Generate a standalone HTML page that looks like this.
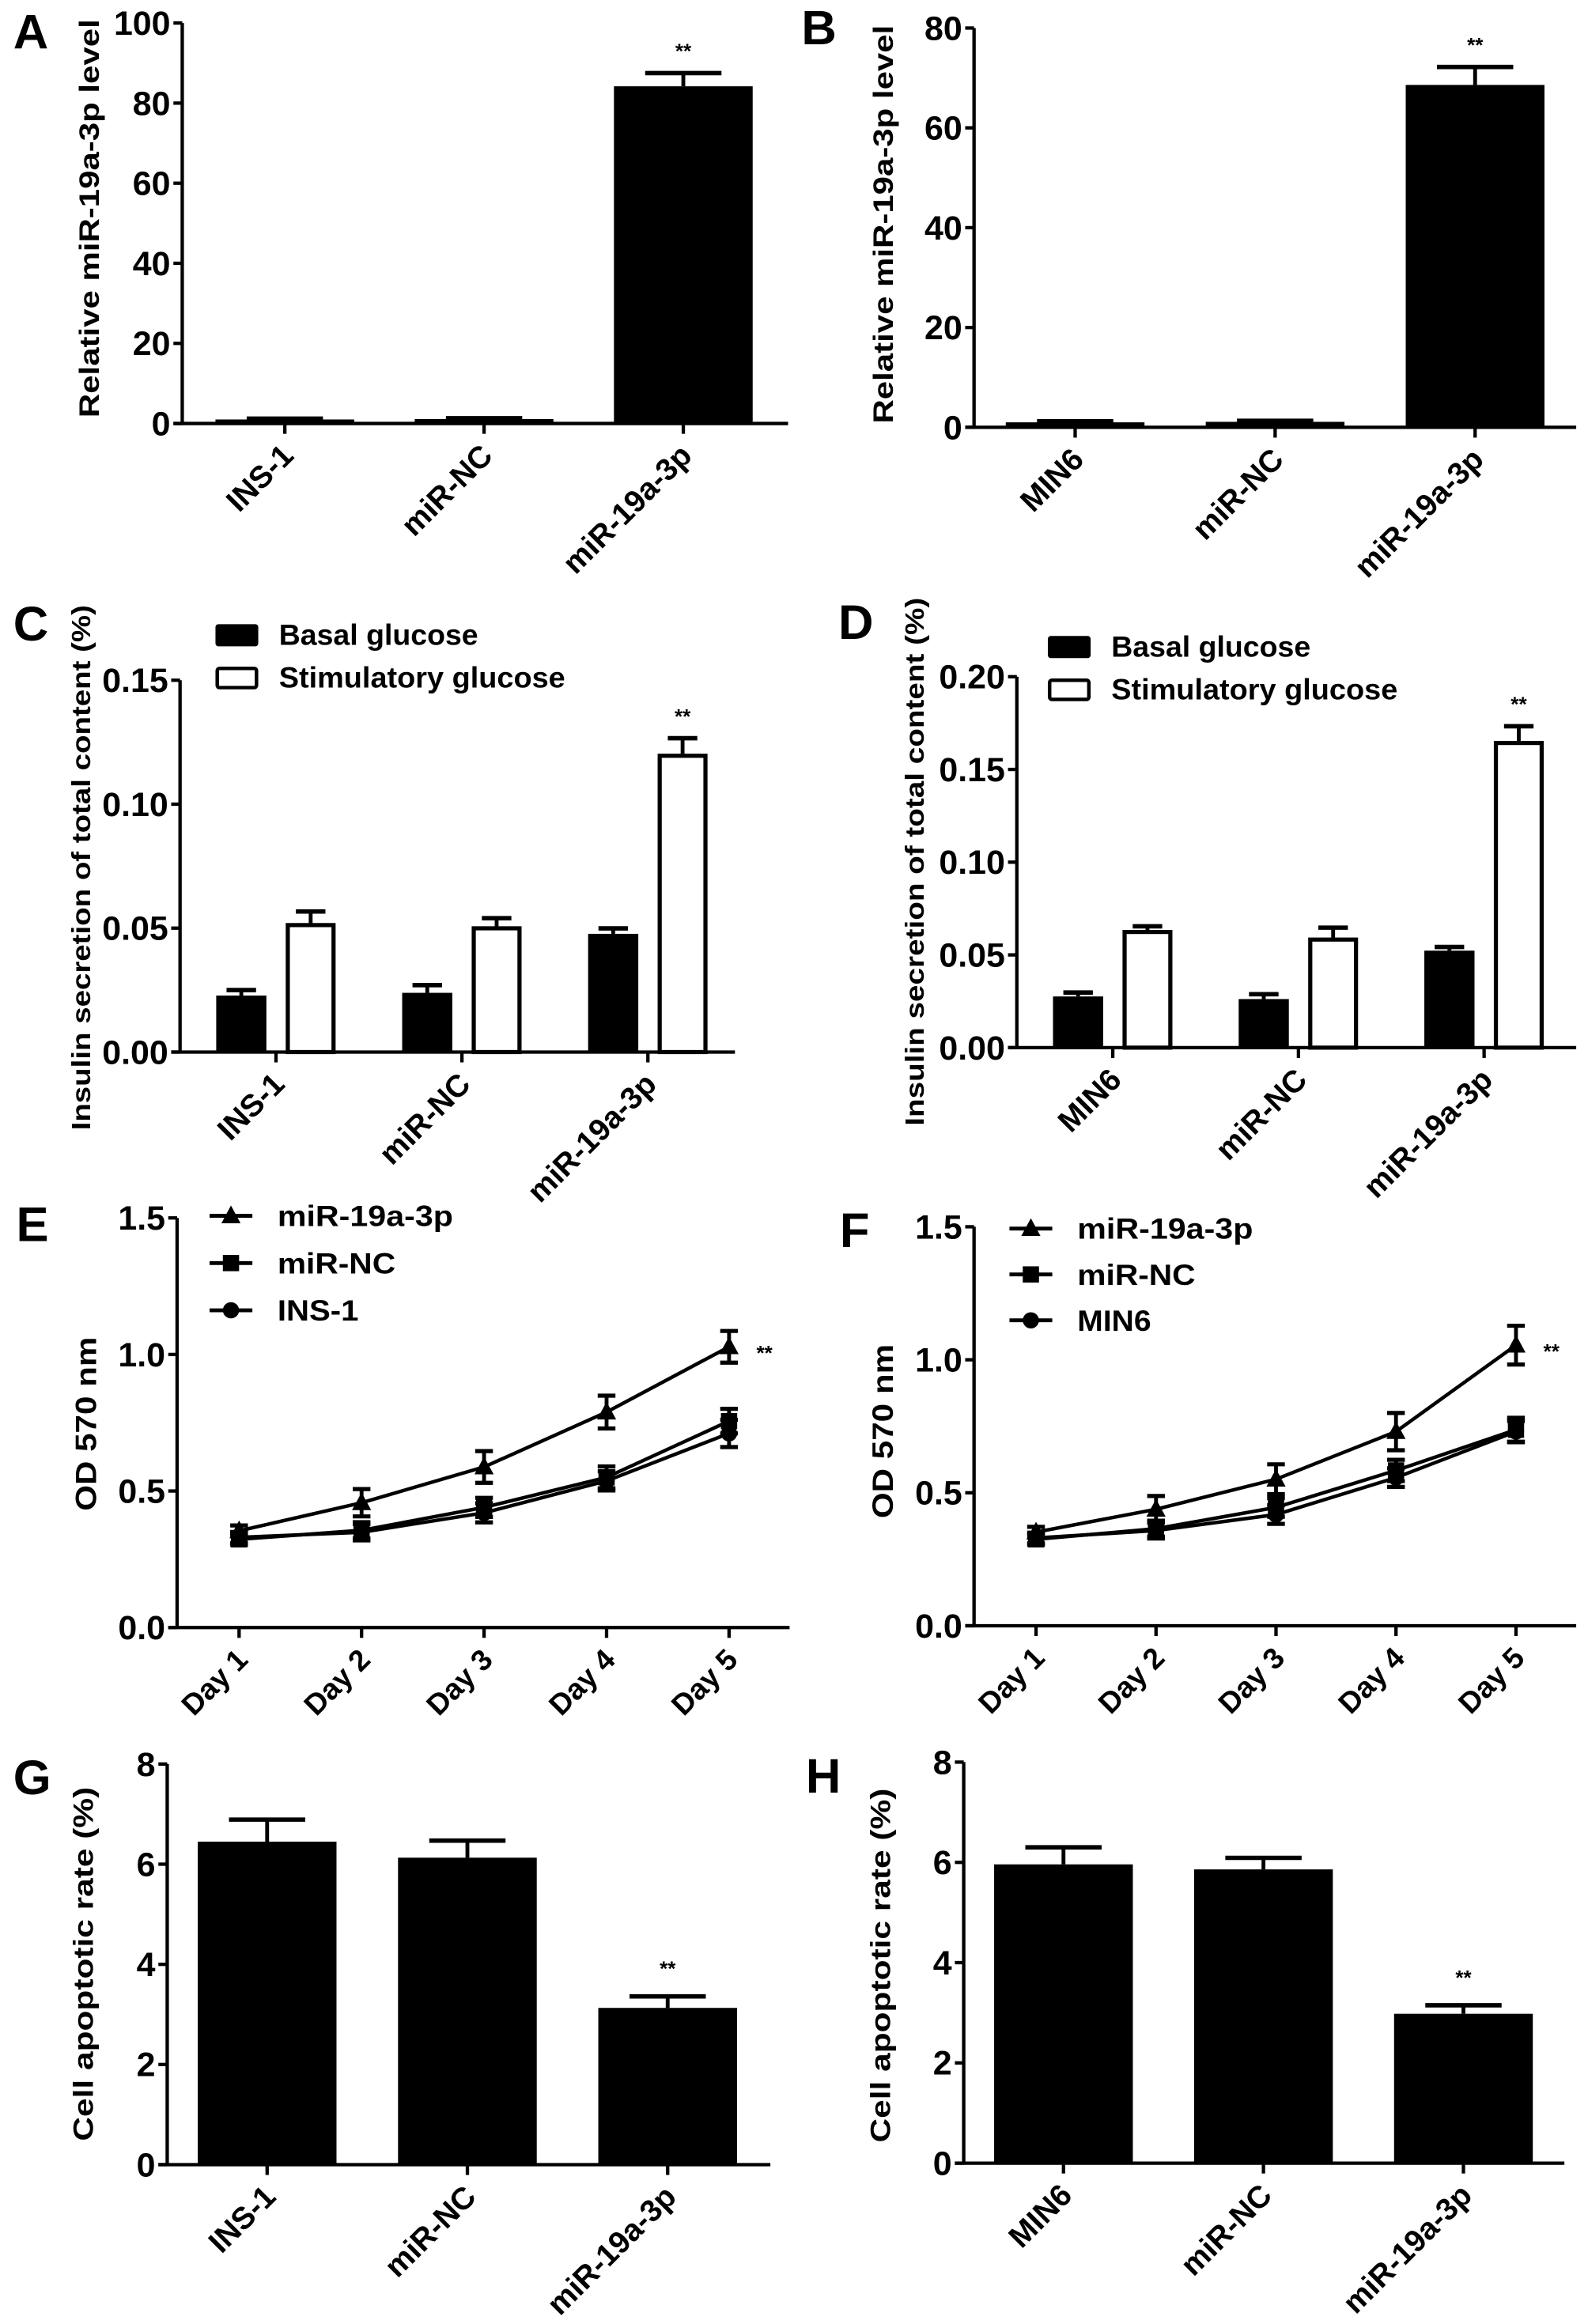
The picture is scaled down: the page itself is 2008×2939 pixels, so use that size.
<!DOCTYPE html>
<html><head><meta charset="utf-8"><style>
html,body{margin:0;padding:0;background:#fff;}
svg{display:block;}
text{font-family:"Liberation Sans",Arial,sans-serif;font-weight:bold;fill:#000;}
.narrow{font-family:"Liberation Sans Narrow","Liberation Sans",Arial,sans-serif;}
</style></head><body>
<svg id="fig" xmlns="http://www.w3.org/2000/svg" width="2008" height="2939" viewBox="0 0 1076 1575" preserveAspectRatio="none"></svg>
<script>
// ---------- DATA ----------
const catsINS = ["INS-1","miR-NC","miR-19a-3p"];
const catsMIN = ["MIN6","miR-NC","miR-19a-3p"];
const aValues = [1.0, 1.1, 84.2];
const aErrors = [0.2, 0.2, 3.3];
const aTicks = [0,20,40,60,80,100];
const bValues = [1.0, 1.1, 68.6];
const bErrors = [0.2, 0.2, 3.6];
const bTicks = [0,20,40,60,80];
const cBasal = [0.0228, 0.0239, 0.0477];
const cBasalErr = [0.0022, 0.0031, 0.0022];
const cStim = [0.0520, 0.0507, 0.1203];
const cStimErr = [0.0047, 0.0033, 0.0063];
const cTicks = [0,0.05,0.10,0.15];
const cTickLabels = ["0.00","0.05","0.10","0.15"];
const dBasal = [0.0276, 0.0262, 0.0523];
const dBasalErr = [0.0021, 0.0026, 0.0020];
const dStim = [0.0634, 0.0593, 0.1653];
const dStimErr = [0.0020, 0.0054, 0.0080];
const dTicks = [0,0.05,0.10,0.15,0.20];
const dTickLabels = ["0.00","0.05","0.10","0.15","0.20"];
const days = ["Day 1","Day 2","Day 3","Day 4","Day 5"];
const odTicks = [0,0.5,1.0,1.5];
const odTickLabels = ["0.0","0.5","1.0","1.5"];
const eMir = [0.354, 0.457, 0.588, 0.789, 1.028];
const eMirErr = [0.02, 0.05, 0.058, 0.06, 0.058];
const eNC = [0.323, 0.356, 0.440, 0.550, 0.756];
const eNCErr = [0.02, 0.03, 0.035, 0.04, 0.045];
const eCtl = [0.330, 0.349, 0.420, 0.537, 0.711];
const eCtlErr = [0.02, 0.03, 0.035, 0.035, 0.05];
const fMir = [0.352, 0.438, 0.551, 0.730, 1.055];
const fMirErr = [0.02, 0.05, 0.056, 0.07, 0.073];
const fNC = [0.325, 0.365, 0.445, 0.584, 0.737];
const fNCErr = [0.02, 0.03, 0.035, 0.04, 0.045];
const fCtl = [0.330, 0.358, 0.418, 0.557, 0.730];
const fCtlErr = [0.02, 0.03, 0.035, 0.035, 0.04];
const gValues = [6.45, 6.13, 3.13];
const gErrors = [0.44, 0.34, 0.23];
const gTicks = [0,2,4,6,8];
const hValues = [5.96, 5.86, 2.98];
const hErrors = [0.34, 0.23, 0.17];
const hTicks = [0,2,4,6,8];

// ---------- HELPERS ----------
const NS = "http://www.w3.org/2000/svg";
const svg = document.getElementById('fig');
function el(tag, attrs, parent){
  const e = document.createElementNS(NS, tag);
  for (const k in attrs) e.setAttribute(k, attrs[k]);
  (parent||svg).appendChild(e);
  return e;
}
function txt(s, attrs, parent){ const t = el('text', attrs, parent); t.textContent = s; return t; }

function axes(g, P, ticks, tickLabels){
  const ys = v => P.zeroY - v/P.max*(P.zeroY-P.topY);
  const ya = el('line',{x1:P.axisX,y1:P.topY,x2:P.axisX,y2:P.zeroY,stroke:'#000','stroke-width':2.3},g);
  
  
  const xa = el('line',{x1:P.axisX-6,y1:P.zeroY,x2:P.endX,y2:P.zeroY,stroke:'#000','stroke-width':2.3},g);
  
  
  ticks.forEach((v,i)=>{
    const y = ys(v);
    const tk = el('line',{x1:P.axisX-6,y1:y,x2:P.axisX,y2:y,stroke:'#000','stroke-width':2.3},g);
    
    
    const t = txt(tickLabels?tickLabels[i]:String(v),{x:P.axisX-8,y:y+8,'text-anchor':'end','font-size':23,class:'narrow'},g);
    
    
  });
  const yl = txt(P.ylabel,{x:0,y:0,'text-anchor':'middle','font-size':P.ylSize||19,transform:`translate(${P.ylX},${P.ylY}) rotate(-90)`,textLength:P.ylLen,lengthAdjust:'spacingAndGlyphs'},g);
  
  
  const lt = txt(P.letter,{x:P.lx,y:P.ly,'font-size':33},g);
  
  
  return ys;
}
function catLabels(g, P, cats, fs){
  cats.forEach((c,i)=>{
    const x = P.firstX + i*P.step;
    const tk = el('line',{x1:x,y1:P.zeroY,x2:x,y2:P.zeroY+7,stroke:'#000','stroke-width':2.3},g);
    
    
    const t = txt(c,{x:0,y:0,'text-anchor':'end','font-size':fs||21,transform:`translate(${x+7},${P.zeroY+23}) rotate(-45)`},g);
    
    
  });
}
function errBar(g, x, yTop, yErr, capW){
  const l = el('line',{x1:x,y1:yTop,x2:x,y2:yErr,stroke:'#000','stroke-width':2.6},g);
  
  
  const c = el('line',{x1:x-capW/2,y1:yErr,x2:x+capW/2,y2:yErr,stroke:'#000','stroke-width':3},g);
  
  
}
function star(g,x,y){
  const s = txt('**',{x:x,y:y,'text-anchor':'middle','font-size':14},g);
  
  
}

function simpleBar(P, cats, vals, errs, ticks, starIdx){
  const g = el('g',{});
  
  
  const ys = axes(g,P,ticks);
  vals.forEach((v,i)=>{
    const x = P.firstX + i*P.step;
    const yT = ys(v);
    errBar(g,x,yT,ys(v+errs[i]),P.bw*0.55);
    const r = el('rect',{x:x-P.bw/2,y:yT,width:P.bw,height:Math.max(P.zeroY-yT,2),fill:'#000'},g);
    
    
  });
  catLabels(g,P,cats);
  const i = starIdx;
  star(g, P.firstX+i*P.step, ys(vals[i]+errs[i])-P.starGap);
}

function groupBar(P, cats, basal, basalErr, stim, stimErr, ticks, tickLabels){
  const g = el('g',{});
  
  
  const ys = axes(g,P,ticks,tickLabels);
  cats.forEach((c,i)=>{
    const x = P.firstX + i*P.step;
    const xb = x - 23.5, xs = x + 23.5;
    let yT = ys(basal[i]);
    errBar(g,xb,yT,ys(basal[i]+basalErr[i]),20);
    const r1 = el('rect',{x:xb-17,y:yT,width:34,height:P.zeroY-yT,fill:'#000'},g);
    
    
    yT = ys(stim[i]);
    errBar(g,xs,yT,ys(stim[i]+stimErr[i]),20);
    const r2 = el('rect',{x:xs-15.5,y:yT+1.3,width:31,height:P.zeroY-yT-1.3,fill:'#fff',stroke:'#000','stroke-width':2.8},g);
    
    
  });
  catLabels(g,P,cats);
  star(g, P.firstX+2*P.step+23.5, ys(stim[2]+stimErr[2])-P.starGap);
  // legend
  const lg = el('g',{},g);
  
  
  const b1 = el('rect',{x:P.legX,y:P.legY1-7,width:29,height:15,rx:2,fill:'#000'},lg);
  
  
  const t1 = txt('Basal glucose',{x:P.legTX,y:P.legY1+7,'font-size':20,textLength:135,lengthAdjust:'spacingAndGlyphs'},lg);
  
  
  const b2 = el('rect',{x:P.legX+1.2,y:P.legY2-6,width:26.6,height:13,rx:1.5,fill:'#fff',stroke:'#000','stroke-width':2.4},lg);
  
  
  const t2 = txt('Stimulatory glucose',{x:P.legTX,y:P.legY2+7,'font-size':20,textLength:194,lengthAdjust:'spacingAndGlyphs'},lg);
  
  
}

function marker(g, type, x, y, name){
  let m;
  if (type==='tri') m = el('polygon',{points:`${x},${y-7} ${x-6.5},${y+5} ${x+6.5},${y+5}`,fill:'#000'},g);
  else if (type==='sq') m = el('rect',{x:x-5.5,y:y-5.5,width:11,height:11,fill:'#000'},g);
  else m = el('circle',{cx:x,cy:y,r:5.5,fill:'#000'},g);
  
  
}

function linePanel(P, series, ctlName){
  const g = el('g',{});
  
  
  const ys = axes(g,P,odTicks,odTickLabels);
  const xs = i => P.firstX + i*P.step;
  series.forEach(s=>{
    const pts = s.vals.map((v,i)=>`${xs(i)},${ys(v)}`).join(' ');
    const pl = el('polyline',{points:pts,fill:'none',stroke:'#000','stroke-width':2.4},g);
    
    
    s.vals.forEach((v,i)=>{
      const x = xs(i);
      const l = el('line',{x1:x,y1:ys(v-s.err[i]),x2:x,y2:ys(v+s.err[i]),stroke:'#000','stroke-width':2.6},g);
      
      
      [v-s.err[i], v+s.err[i]].forEach(e=>{
        const c = el('line',{x1:x-6,y1:ys(e),x2:x+6,y2:ys(e),stroke:'#000','stroke-width':2.8},g);
        
        
      });
      marker(g,s.mk,x,ys(v),'point-'+s.name);
    });
  });
  catLabels(g,P,days,20);
  star(g, xs(4)+24, ys(series[0].vals[4])+9);
  const lg = el('g',{},g);
  
  
  const labels = ['miR-19a-3p','miR-NC',ctlName];
  const widths = [119, 80, ctlName==='MIN6'?50:55];
  series.forEach((s,i)=>{
    const y = P.legY + i*P.legStep;
    const ln = el('line',{x1:P.legX,y1:y,x2:P.legX+29,y2:y,stroke:'#000','stroke-width':2.6},lg);
    
    
    marker(lg,s.mk,P.legX+14.5,y,'legend-marker');
    const t = txt(labels[i],{x:P.legTX,y:y+7,'font-size':20,textLength:widths[i],lengthAdjust:'spacingAndGlyphs'},lg);
    
    
  });
}

// ---------- PANELS ----------
simpleBar({letter:'A',lx:9,ly:33,axisX:123.5,zeroY:287,topY:15.6,max:100,endX:534,firstX:193,step:135,bw:94,
  ylabel:'Relative miR-19a-3p level',ylX:67,ylY:148,ylLen:270,starGap:10}, catsINS, aValues, aErrors, aTicks, 2);
simpleBar({letter:'B',lx:543,ly:30,axisX:660,zeroY:289.6,topY:19,max:80,endX:1068,firstX:728.5,step:135.5,bw:94,
  ylabel:'Relative miR-19a-3p level',ylX:605,ylY:152,ylLen:270,starGap:10}, catsMIN, bValues, bErrors, bTicks, 2);
groupBar({letter:'C',lx:9,ly:434,axisX:122,zeroY:713,topY:461,max:0.15,endX:498,firstX:187,step:126,
  ylabel:'Insulin secretion of total content (%)',ylX:61,ylY:588,ylLen:356,ylSize:18,starGap:10,
  legX:146,legTX:189,legY1:430,legY2:459}, catsINS, cBasal, cBasalErr, cStim, cStimErr, cTicks, cTickLabels);
groupBar({letter:'D',lx:568,ly:433,axisX:689,zeroY:710,topY:458.6,max:0.20,endX:1068,firstX:754,step:125.8,
  ylabel:'Insulin secretion of total content (%)',ylX:626,ylY:584,ylLen:358,ylSize:18,starGap:10,
  legX:710,legTX:753,legY1:438,legY2:467}, catsMIN, dBasal, dBasalErr, dStim, dStimErr, dTicks, dTickLabels);
linePanel({letter:'E',lx:11,ly:841,axisX:120,zeroY:1103,topY:825.4,max:1.5,endX:535,firstX:162,step:83,
  ylabel:'OD 570 nm',ylX:65,ylY:965,ylLen:118,ylSize:20,legX:142,legTX:188,legY:824,legStep:32},
  [{name:'mir-19a-3p',vals:eMir,err:eMirErr,mk:'tri'},{name:'mir-nc',vals:eNC,err:eNCErr,mk:'sq'},{name:'ins-1',vals:eCtl,err:eCtlErr,mk:'circ'}],'INS-1');
linePanel({letter:'F',lx:569,ly:845,axisX:660,zeroY:1101.8,topY:831.4,max:1.5,endX:1068,firstX:702,step:81.3,
  ylabel:'OD 570 nm',ylX:605,ylY:970,ylLen:118,ylSize:20,legX:684,legTX:730,legY:832.6,legStep:31.1},
  [{name:'mir-19a-3p',vals:fMir,err:fMirErr,mk:'tri'},{name:'mir-nc',vals:fNC,err:fNCErr,mk:'sq'},{name:'min6',vals:fCtl,err:fCtlErr,mk:'circ'}],'MIN6');
simpleBar({letter:'G',lx:9,ly:1216,axisX:113.3,zeroY:1467,topY:1195.5,max:8,endX:522,firstX:181,step:135.7,bw:94,
  ylabel:'Cell apoptotic rate (%)',ylX:63,ylY:1331,ylLen:240,starGap:14}, catsINS, gValues, gErrors, gTicks, 2);
simpleBar({letter:'H',lx:546,ly:1215,axisX:653,zeroY:1466,topY:1194.2,max:8,endX:1060,firstX:720.6,step:135.5,bw:94,
  ylabel:'Cell apoptotic rate (%)',ylX:603,ylY:1332,ylLen:240,starGap:14}, catsMIN, hValues, hErrors, hTicks, 2);
</script>
</body></html>
